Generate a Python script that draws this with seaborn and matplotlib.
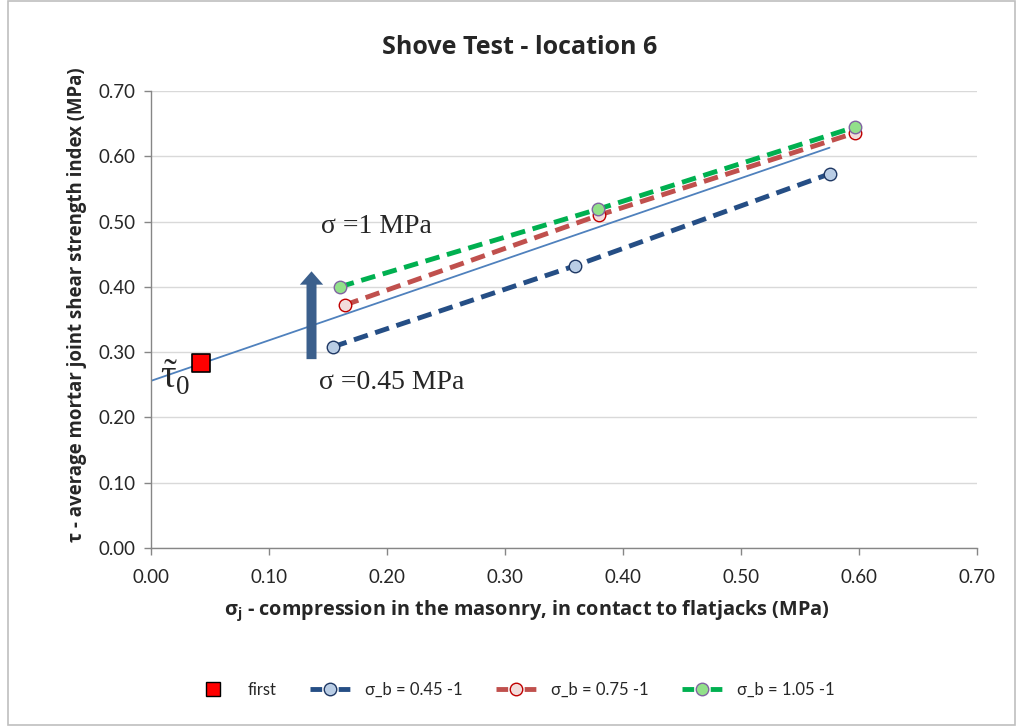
import matplotlib.pyplot as plt
import seaborn as sns
import numpy as np
import pandas as pd
from matplotlib.lines import Line2D

sns.set_theme(style="white")
plt.rcParams["font.family"] = ["Lato", "DejaVu Sans"]
plt.rcParams["mathtext.fontset"] = "custom"
plt.rcParams["mathtext.rm"] = "Liberation Serif"

# data
first_x = [0.042]
first_y = [0.283]

sigma_j_045 = [0.154, 0.359, 0.575]
tau_045 = [0.308, 0.432, 0.573]
sigma_j_075 = [0.164, 0.380, 0.597]
tau_075 = [0.372, 0.510, 0.636]
sigma_j_105 = [0.160, 0.379, 0.597]
tau_105 = [0.400, 0.519, 0.645]

# linear trend (thin blue line)
trend_x = [0.0, 0.575]
trend_intercept = 0.256
trend_slope = 0.621

series = [
    ("σ_b = 0.45 -1", sigma_j_045, tau_045, "#254E85", "#B9CDE5", "#1F3864"),
    ("σ_b = 0.75 -1", sigma_j_075, tau_075, "#C0504D", "#F2DCDB", "#C00000"),
    ("σ_b = 1.05 -1", sigma_j_105, tau_105, "#00B050", "#92E08A", "#8064A2"),
]

fig = plt.figure(figsize=(10.17, 7.26), dpi=100)
ax = fig.add_axes([0.1485, 0.2452, 0.8122, 0.6295])

# outer chart border
fig.patches.append(plt.Rectangle((0.008, 0.002), 0.99, 0.996, transform=fig.transFigure,
                                 fill=False, edgecolor="#BFBFBF", lw=1.2))

tx = np.array(trend_x)
sns.lineplot(x=tx, y=trend_intercept + trend_slope * tx, ax=ax, color="#4F81BD", lw=1.3)

handles = [Line2D([], [], ls="none", marker="s", ms=10, mfc="red", mec="black", mew=1.0)]
labels = ["first"]
for name, xs, ys, lc, fc, ec in series:
    df = pd.DataFrame({"x": xs, "y": ys})
    sns.lineplot(data=df, x="x", y="y", ax=ax, color=lc, lw=3.5,
                 dashes=False, linestyle=(0, (3, 1.6)), marker="o", ms=9,
                 markerfacecolor=fc, markeredgecolor=ec, markeredgewidth=1.0)
    handles.append(Line2D([], [], color=lc, lw=3.5, ls=(0, (2.4, 3.4)), marker="o", ms=9,
                          mfc=fc, mec=ec, mew=1.0))
    labels.append(name)

sns.scatterplot(x=first_x, y=first_y, ax=ax, marker="s", s=170, color="red",
                edgecolor="black", linewidth=1.2, zorder=5)

# arrow and annotations
ax.annotate("", xy=(0.136, 0.428), xytext=(0.136, 0.285),
            arrowprops=dict(arrowstyle="simple,head_width=1.4,head_length=0.8,tail_width=0.6",
                            color="#3B5F8C", lw=0))
ax.text(0.144, 0.493, "σ =1 MPa", family="Liberation Serif", fontsize=20, va="center")
ax.text(0.142, 0.253, "σ =0.45 MPa", family="Liberation Serif", fontsize=20, va="center")
ax.text(0.008, 0.262, r"$\tilde{\mathrm{τ}}_{\mathrm{0}}$", fontsize=28, va="center")

ax.set_xlim(0, 0.7)
ax.set_ylim(0, 0.7)
ticks = np.round(np.arange(0, 0.71, 0.1), 2)
ax.set_xticks(ticks)
ax.set_yticks(ticks)
ax.set_xticklabels([f"{t:.2f}" for t in ticks], fontsize=13.5)
ax.set_yticklabels([f"{t:.2f}" for t in ticks], fontsize=13.5)
ax.yaxis.grid(True, color="#D9D9D9", lw=1)
ax.xaxis.grid(False)
for s in ["top", "right"]:
    ax.spines[s].set_visible(False)
for s in ["left", "bottom"]:
    ax.spines[s].set_color("#868686")
    ax.spines[s].set_linewidth(1)
ax.tick_params(axis="both", direction="out", length=5, color="#868686", width=1,
               bottom=True, left=True, pad=6)
ax.tick_params(axis="x", pad=10)

fig.text(0.511, 0.935, "Shove Test - location 6", fontsize=18, fontweight="bold",
         family="Open Sans", ha="center", va="center")
ax.set_xlabel(r"σ$_\mathregular{j}$ - compression in the masonry, in contact to flatjacks (MPa)",
              fontsize=14.3, fontweight="bold", family="Open Sans")
ax.set_ylabel("τ - average mortar joint shear strength index (MPa)",
              fontsize=13.4, fontweight="bold", family="Open Sans")
ax.xaxis.set_label_coords(0.455, -0.11)
ax.yaxis.set_label_coords(-0.078, 0.532)

fig.legend(handles, labels, loc="center", bbox_to_anchor=(0.505, 0.05), ncol=4,
           frameon=False, fontsize=12, handlelength=2.4, columnspacing=2.0, handletextpad=0.9)

fig.savefig("out.png", dpi=100)
